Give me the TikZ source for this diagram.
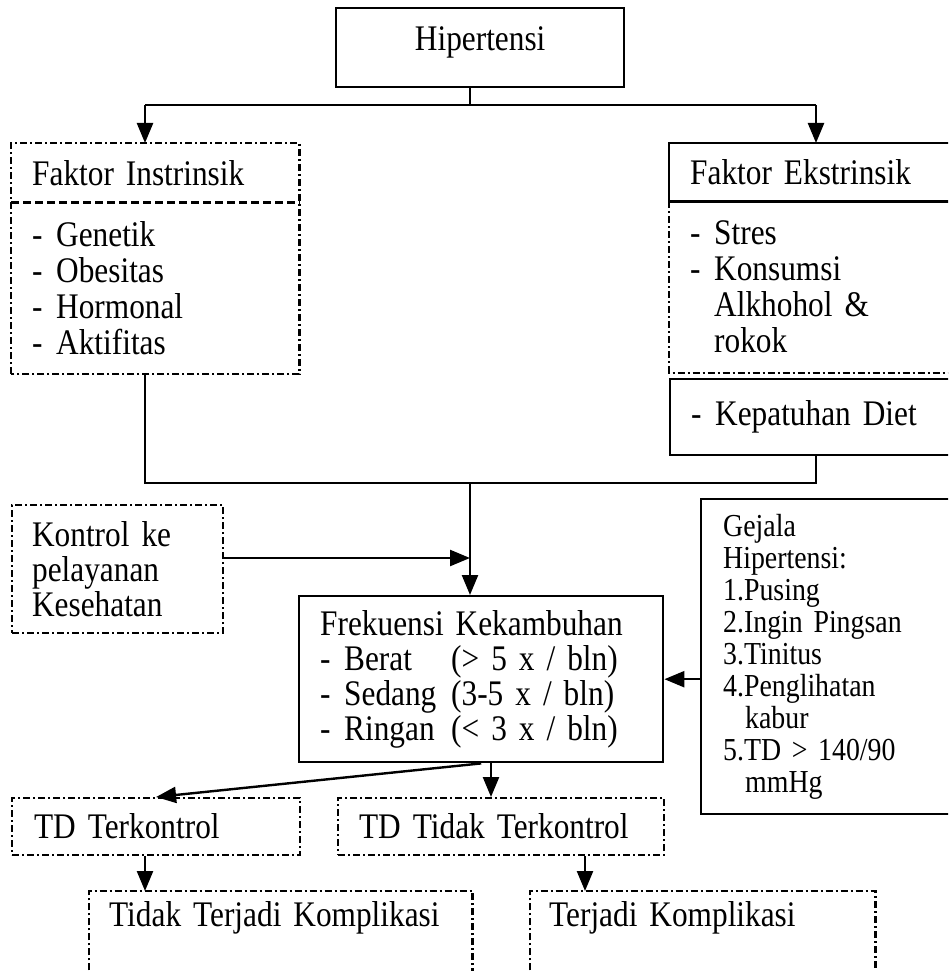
\documentclass[tikz,border=0pt]{standalone}
\usepackage{fontspec}
\setmainfont{Liberation Serif}[FakeStretch=0.87]
\usetikzlibrary{arrows.meta,calc}
\newcommand\dashitem[1]{\makebox[24pt][l]{-}#1}
\begin{document}
\begin{tikzpicture}[x=1pt,y=-1pt,
  font=\fontsize{36}{36}\selectfont,
  solidln/.style={line width=2.4pt},
  ddln/.style={line width=2.2pt, dash pattern=on 7pt off 3pt on 2pt off 3pt},
  dshln/.style={line width=2.2pt, dash pattern=on 8pt off 4pt},
  ln/.style={line width=2.4pt},
  arr/.style={line width=2.4pt, -{Triangle[length=20pt,width=16pt]}},
  bx/.style={anchor=north west, inner ysep=0pt, align=left, shape=rectangle},
]
\useasboundingbox (0,0) rectangle (948,971);
\clip (0,0) rectangle (948,971);

% top
\node[bx, draw, solidln, align=center, text width=288pt, inner xsep=0pt, minimum height=79pt, text depth=18pt] (hip) at (335,7) {Hipertensi};

% Faktor Instrinsik
\node[bx, text width=246pt, inner xsep=21pt, minimum height=59pt] (fih) at (11,143) {Faktor Instrinsik};
\node[bx, text width=246pt, inner xsep=21pt, minimum height=171pt] (fib) at (fih.south west)
  {\dashitem{Genetik}\\\dashitem{Obesitas}\\\dashitem{Hormonal}\\\dashitem{Aktifitas}};
\draw[ddln] (fib.south west) rectangle (fih.north east);
\draw[dshln] (fih.south west) -- (fih.south east);

% Faktor Ekstrinsik
\node[bx, text width=258pt, inner xsep=21pt, minimum height=58pt] (feh) at (669,143) {Faktor Ekstrinsik};
\node[bx, text width=258pt, inner xsep=21pt, minimum height=171pt] (feb) at (feh.south west)
  {\dashitem{Stres}\\\dashitem{Konsumsi}\\\hspace*{24pt}Alkhohol \&\\\hspace*{24pt}rokok};
\draw[solidln] (feh.north east) -- (feh.north west) -- (feh.south west) -- (feh.south east);
\draw[ddln] (feb.north west) -- (feb.south west) -- (feb.south east);
\node[bx, draw, solidln, text width=258pt, inner xsep=21pt, minimum height=76pt] (kep) at (669,378) {\dashitem{Kepatuhan Diet}};

% Kontrol
\node[bx, draw, ddln, text width=171pt, inner xsep=20pt, minimum height=128pt, font=\fontsize{36}{35}\selectfont] (kon) at (11,504)
  {Kontrol ke\\pelayanan\\Kesehatan};

% Frekuensi
\node[bx, draw, solidln, text width=322pt, inner xsep=21pt, minimum height=166pt, font=\fontsize{36}{35}\selectfont] (frek) at (298,595)
  {Frekuensi Kekambuhan\\
   \makebox[131pt][l]{\dashitem{Berat}}(> 5 x / bln)\\
   \makebox[131pt][l]{\dashitem{Sedang}}(3-5 x / bln)\\
   \makebox[131pt][l]{\dashitem{Ringan}}(< 3 x / bln)};

% Gejala
\node[bx, draw, solidln, text width=258pt, inner xsep=22pt, minimum height=315pt, font=\fontsize{32}{32}\selectfont] (gej) at (700,498)
  {Gejala\\Hipertensi:\\1.Pusing\\2.Ingin Pingsan\\3.Tinitus\\4.Penglihatan\\\hspace*{22pt}kabur\\5.TD > 140/90\\\hspace*{22pt}mmHg};

% TD boxes
\node[bx, draw, ddln, text width=244pt, inner xsep=22pt, minimum height=57pt] (tdk) at (11,797) {TD Terkontrol};
\node[bx, draw, ddln, text width=284pt, inner xsep=21pt, minimum height=57pt] (tdt) at (337,797) {TD Tidak Terkontrol};

% bottom boxes
\node[bx, text width=343pt, inner xsep=20pt, minimum height=54pt] (ttk) at (89,891) {Tidak Terjadi Komplikasi};
\node[bx, text width=307pt, inner xsep=19pt, minimum height=54pt] (tk) at (530,891) {Terjadi Komplikasi};
\draw[ddln] ([yshift=-100pt]ttk.south west) -- (ttk.north west) -- (ttk.north east) -- ([yshift=-100pt]ttk.south east);
\draw[ddln] ([yshift=-100pt]tk.south west) -- (tk.north west) -- (tk.north east) -- ([yshift=-100pt]tk.south east);

% connectors
\coordinate (jt) at (470,105);
\coordinate (la) at (145,105);
\coordinate (ra) at (816,105);
\draw[ln] (hip.south -| jt) -- (jt);
\draw[ln] (la) -- (ra);
\draw[arr] (la) -- (la |- fih.north);
\draw[arr] (ra) -- (ra |- feh.north);

\coordinate (lb) at (145,483);
\coordinate (rb) at (816,483);
\coordinate (cb) at (470,483);
\draw[ln] (lb |- fib.south) -- (lb) -- (rb) -- (rb |- kep.south);
\draw[arr] (cb) -- (cb |- frek.north);

\coordinate (ka) at (470,558);
\draw[arr] (kon.east |- ka) -- (ka);
\draw[arr] (gej.west |- frek.east) -- (frek.east);

\coordinate (fd) at (491,0);
\draw[arr] (frek.south) -- (tdk.north);
\draw[arr] (frek.south -| fd) -- (tdt.north -| fd);

\coordinate (tl) at (145,0);
\coordinate (tr) at (585,0);
\draw[arr] (tdk.south -| tl) -- (ttk.north -| tl);
\draw[arr] (tdt.south -| tr) -- (tk.north -| tr);
\end{tikzpicture}
\end{document}
